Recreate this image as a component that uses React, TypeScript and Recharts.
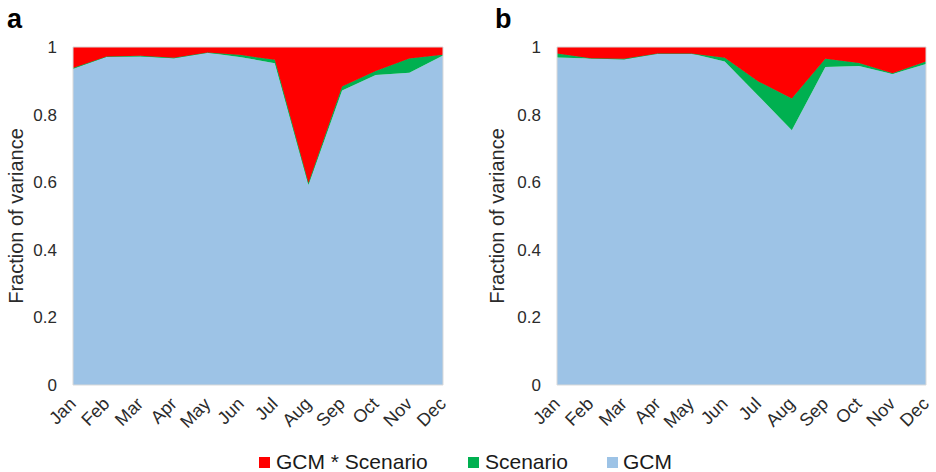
import React from 'react';
import { AreaChart, Area, XAxis, YAxis, ReferenceArea } from 'recharts';

const months = ['Jan', 'Feb', 'Mar', 'Apr', 'May', 'Jun', 'Jul', 'Aug', 'Sep', 'Oct', 'Nov', 'Dec'];

// Panel a
const gcmA = [0.935, 0.971, 0.972, 0.967, 0.983, 0.970, 0.952, 0.592, 0.871, 0.917, 0.924, 0.975];
const scenA = [0.003, 0.001, 0.002, 0.001, 0.001, 0.006, 0.010, 0.006, 0.012, 0.012, 0.042, 0.002];
const interA = [0.062, 0.028, 0.026, 0.032, 0.016, 0.024, 0.038, 0.402, 0.117, 0.071, 0.034, 0.023];

// Panel b
const gcmB = [0.969, 0.966, 0.963, 0.981, 0.981, 0.957, 0.856, 0.754, 0.941, 0.944, 0.920, 0.950];
const scenB = [0.012, 0.001, 0.002, 0.000, 0.000, 0.011, 0.042, 0.094, 0.024, 0.009, 0.002, 0.007];
const interB = [0.019, 0.033, 0.035, 0.019, 0.019, 0.032, 0.102, 0.152, 0.035, 0.047, 0.078, 0.043];

const yTicks = [0, 0.2, 0.4, 0.6, 0.8, 1];
const yLabel = 'Fraction of variance';
const legendItems = [
  { name: 'GCM * Scenario', color: '#ff0000' },
  { name: 'Scenario', color: '#00b050' },
  { name: 'GCM', color: '#9dc3e6' },
];

const FONT = '"Liberation Sans", Arial, Helvetica, sans-serif';
const TXT = '#2b2b2b';
const BLUE = '#9dc3e6';
const GREEN = '#00b050';
const RED = '#ff0000';
const BORDER = '#d9d9d9';

const build = (g: number[], s: number[], i: number[]) =>
  months.map((m, k) => ({ month: m, gcm: g[k], scen: s[k], inter: i[k] }));

const dataA = build(gcmA, scenA, interA);
const dataB = build(gcmB, scenB, interB);

const MonthTick = (props: any) => {
  const { x, y, payload } = props;
  const ax = x + 4;
  const ay = y + 20;
  return (
    <text
      x={ax}
      y={ay}
      textAnchor="end"
      transform={`rotate(-45 ${ax} ${ay})`}
      fontSize={18}
      fill={TXT}
      fontFamily={FONT}
    >
      {payload.value}
    </text>
  );
};

const Panel = ({ data, width, axisWidth, labelX, right }: any) => (
  <AreaChart
    width={width}
    height={440}
    data={data}
    margin={{ top: 47, right: right, bottom: 0, left: 0 }}
  >
    <XAxis
      dataKey="month"
      interval={0}
      tickLine={false}
      tickSize={0}
      tickMargin={0}
      axisLine={false}
      height={55}
      tick={<MonthTick />}
    />
    <YAxis
      domain={[0, 1]}
      ticks={yTicks}
      allowDataOverflow
      tickLine={false}
      tickSize={0}
      tickMargin={16}
      axisLine={false}
      width={axisWidth}
      tick={{ fontSize: 17, fill: TXT, fontFamily: FONT }}
      label={{
        value: yLabel,
        angle: -90,
        position: 'insideLeft',
        offset: labelX,
        style: { fontSize: 20, fill: TXT, fontFamily: FONT, textAnchor: 'middle' },
      }}
    />
    <Area
      type="linear"
      dataKey="gcm"
      stackId="1"
      stroke="none"
      fill={BLUE}
      fillOpacity={1}
      isAnimationActive={false}
    />
    <Area
      type="linear"
      dataKey="scen"
      stackId="1"
      stroke={GREEN}
      strokeWidth={1}
      fill={GREEN}
      fillOpacity={1}
      isAnimationActive={false}
    />
    <Area
      type="linear"
      dataKey="inter"
      stackId="1"
      stroke="none"
      fill={RED}
      fillOpacity={1}
      isAnimationActive={false}
    />
    <ReferenceArea
      x1="Jan"
      x2="Dec"
      y1={0}
      y2={1}
      fill="none"
      fillOpacity={0}
      stroke={BORDER}
      strokeWidth={1}
      ifOverflow="visible"
    />
  </AreaChart>
);

export default function App() {
  return (
    <div
      style={{
        position: 'absolute',
        left: 0,
        top: 0,
        width: 936,
        height: 472,
        background: '#fff',
        fontFamily: FONT,
        overflow: 'hidden',
      }}
    >
      <div style={{ position: 'absolute', left: 0, top: 0 }}>
        <Panel data={dataA} width={470} axisWidth={73} labelX={16} right={27} />
      </div>
      <div style={{ position: 'absolute', left: 470, top: 0 }}>
        <Panel data={dataB} width={466} axisWidth={87} labelX={27} right={10} />
      </div>
      <div style={{ position: 'absolute', left: 7, top: 4, fontSize: 27, fontWeight: 'bold', color: '#000' }}>a</div>
      <div style={{ position: 'absolute', left: 495, top: 4, fontSize: 27, fontWeight: 'bold', color: '#000' }}>b</div>
      {legendItems.map((it, k) => {
        const sq = [259, 468, 607][k];
        const tx = [276, 485, 623][k];
        return (
          <React.Fragment key={it.name}>
            <div
              style={{ position: 'absolute', left: sq, top: 457, width: 11, height: 11, background: it.color }}
            />
            <div
              style={{
                position: 'absolute',
                left: tx,
                top: 450,
                fontSize: 21,
                lineHeight: '24px',
                color: '#1a1a1a',
                whiteSpace: 'nowrap',
              }}
            >
              {it.name}
            </div>
          </React.Fragment>
        );
      })}
    </div>
  );
}
